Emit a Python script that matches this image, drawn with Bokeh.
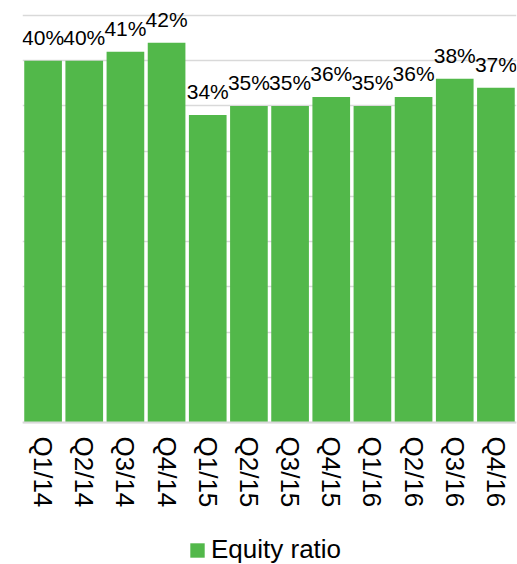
from bokeh.plotting import figure
from bokeh.models import (ColumnDataSource, FactorRange, Range1d, LabelSet,
                          FixedTicker, Legend, LegendItem)
from bokeh.core.properties import value
from bokeh.embed import file_html
from bokeh.resources import INLINE

quarters = ["Q1/14", "Q2/14", "Q3/14", "Q4/14", "Q1/15", "Q2/15",
            "Q3/15", "Q4/15", "Q1/16", "Q2/16", "Q3/16", "Q4/16"]
equity_ratio = [40, 40, 41, 42, 34, 35, 35, 36, 35, 36, 38, 37]
grid_ticks = [0, 5, 10, 15, 20, 25, 30, 35, 40, 45]
series_name = "Equity ratio"

GREEN = "#52b84a"
GRID = "#d9d9d9"
FONT = "Liberation Sans"

src = ColumnDataSource(dict(
    q=quarters,
    v=equity_ratio,
    lbl=[f"{v}%" for v in equity_ratio],
))

# frame covers the full canvas height; the value axis baseline (0) sits
# at 422 px, leaving room below for the category labels and the legend
p = figure(
    width=517, height=564,
    x_range=FactorRange(*quarters, range_padding=0),
    y_range=Range1d(-15.70, 46.66),
    output_backend="svg", toolbar_location=None,
    min_border_left=22, min_border_right=1,
    min_border_top=0, min_border_bottom=0,
)
p.outline_line_color = None
p.background_fill_color = "white"
p.border_fill_color = "white"

r = p.vbar(x="q", top="v", bottom=0, width=0.915, source=src,
           fill_color=GREEN, line_color=None)

# grid
p.yaxis.visible = False
p.ygrid.ticker = FixedTicker(ticks=grid_ticks)
p.ygrid.grid_line_color = GRID
p.ygrid.grid_line_width = 1.6
p.xgrid.visible = False

# x axis pinned to the zero line
xa = p.xaxis[0]
xa.fixed_location = 0
xa.axis_line_color = GRID
xa.axis_line_width = 2
xa.major_tick_line_color = None
xa.minor_tick_line_color = None
xa.major_tick_in = 0
xa.major_tick_out = 0
xa.major_label_orientation = "vertical"
xa.major_label_text_font = FONT
xa.major_label_text_font_size = "26px"
xa.major_label_text_color = "black"
xa.major_label_standoff = 14

# value labels
labels = LabelSet(x="q", y="v", text="lbl", source=src,
                  text_align="center", text_baseline="alphabetic",
                  y_offset=16, text_font=value(FONT),
                  text_font_size=value("21px"),
                  text_color=value("black"))
p.add_layout(labels)

legend = Legend(items=[LegendItem(label=series_name, renderers=[r])],
                location=(166, -1),
                orientation="horizontal",
                glyph_width=18, glyph_height=18, label_standoff=5,
                label_text_font=FONT, label_text_font_size="26px",
                label_text_color="black",
                padding=0, margin=0, spacing=0,
                border_line_color=None, background_fill_alpha=0)
p.add_layout(legend, "center")

open("out.html", "w").write(file_html(p, INLINE))
